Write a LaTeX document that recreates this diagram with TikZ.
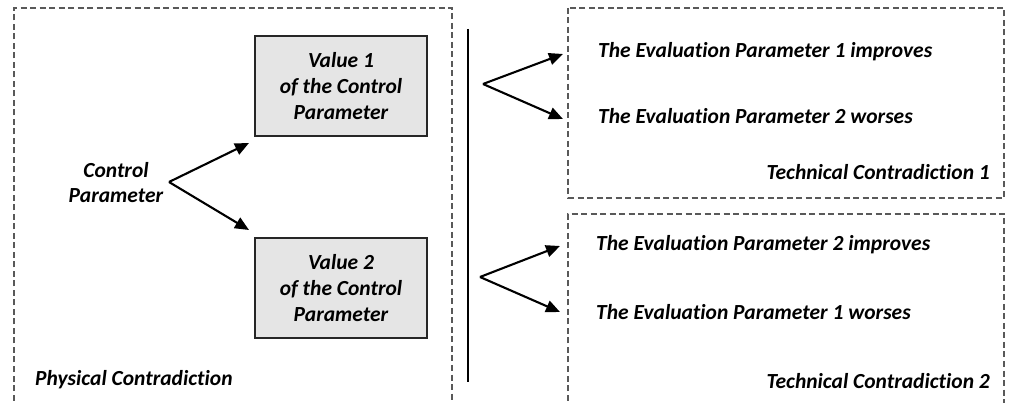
\documentclass[tikz,border=0pt]{standalone}
\usepackage{fontspec}
\setmainfont[Ligatures=NoCommon]{Carlito}
\usetikzlibrary{arrows.meta}
\begin{document}
\begin{tikzpicture}[x=1pt,y=-1pt,
  txt/.style={font=\fontsize{21.5}{25}\selectfont\bfseries\itshape, inner sep=0pt},
  frame/.style={draw=black!65, line width=1.1pt, dash pattern=on 6pt off 3.5pt},
  valbox/.style={draw=black!85, line width=1.4pt, fill=black!10, minimum width=172pt, minimum height=100pt, align=center, font=\fontsize{21.5}{26}\selectfont\bfseries\itshape},
  arr/.style={line width=2.1pt, -{Triangle[length=14pt,width=12pt]}}]
\useasboundingbox (0,0) rectangle (1015,403);

% dashed frames (open at the bottom edge of the page)
\draw[frame] (14,410) -- (14,8) -- (452,8) -- (452,410);
\draw[frame] (568,8) rectangle (1004,198);
\draw[frame] (568,410) -- (568,214) -- (1004,214) -- (1004,410);

% separator
\draw[line width=1.4pt] (468,29) -- (468,382);

% physical contradiction
\node[txt, align=center] (cp) at (116,183) {Control\\Parameter};
\node[valbox] (v1) at (341,86) {Value 1\\of the Control\\Parameter};
\node[valbox] (v2) at (341,288) {Value 2\\of the Control\\Parameter};
\node[txt, anchor=west] (pc) at (35,380) {Physical Contradiction};

\coordinate (a0) at (169,182);
\coordinate (a1) at (249,143);
\coordinate (a2) at (249,230);
\draw[arr] (a0) -- (a1);
\draw[arr] (a0) -- (a2);

% technical contradiction 1
\node[txt, anchor=west] (e1i) at (598,52) {The Evaluation Parameter 1 improves};
\node[txt, anchor=west] (e2w) at (598,116) {The Evaluation Parameter 2 worses};
\node[txt, anchor=east] (tc1) at (990,172) {Technical Contradiction 1};
\coordinate (b0) at (483,84);
\coordinate (b1) at (563,54);
\coordinate (b2) at (563,119);
\draw[arr] (b0) -- (b1);
\draw[arr] (b0) -- (b2);

% technical contradiction 2
\node[txt, anchor=west] (e2i) at (596,245) {The Evaluation Parameter 2 improves};
\node[txt, anchor=west] (e1w) at (596,312) {The Evaluation Parameter 1 worses};
\node[txt, anchor=east] (tc2) at (990,381) {Technical Contradiction 2};
\coordinate (c0) at (480,277);
\coordinate (c1) at (560,246);
\coordinate (c2) at (560,312);
\draw[arr] (c0) -- (c1);
\draw[arr] (c0) -- (c2);
\end{tikzpicture}
\end{document}
